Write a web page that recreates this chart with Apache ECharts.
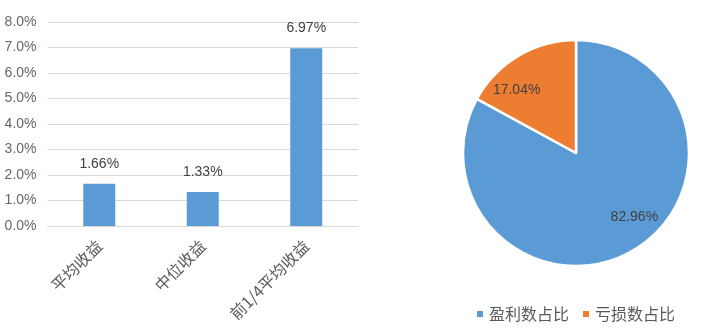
<!DOCTYPE html>
<html><head><meta charset="utf-8">
<script src="https://cdn.jsdelivr.net/npm/echarts@6/dist/echarts.min.js"></script>
<style>html,body{margin:0;padding:0;background:#fff}#c{width:701px;height:329px}</style>
</head><body><div id="c"></div>
<script>
var barCategories = ['平均收益', '中位收益', '前1/4平均收益'];
var barValues = [1.66, 1.33, 6.97];
var yTicks = [0, 1, 2, 3, 4, 5, 6, 7, 8];
var pieNames = ['盈利数占比', '亏损数占比'];
var pieValues = [82.96, 17.04];
var pieColors = ['#5b9bd5', '#ed7d31'];
var labelShift = [[28, 13], [-29, -12]];

var chart = echarts.init(document.getElementById('c'));
chart.setOption({
  animation: false,
  textStyle: {fontFamily: '"Liberation Sans", "Noto Sans CJK SC", sans-serif'},
  grid: {left: 47.5, right: 343, top: 22, bottom: 103},
  xAxis: {
    type: 'category', data: barCategories,
    axisLine: {lineStyle: {color: '#d9d9d9'}},
    axisTick: {show: false},
    axisLabel: {rotate: 45, margin: 17, color: '#595959', fontSize: 16,
      fontFamily: '"Noto Sans CJK SC", sans-serif'}
  },
  yAxis: {
    type: 'value', min: yTicks[0], max: yTicks[yTicks.length - 1], interval: 1,
    axisLine: {show: false}, axisTick: {show: false},
    splitLine: {lineStyle: {color: '#d9d9d9'}},
    axisLabel: {color: '#666666', fontSize: 14, margin: 11,
      formatter: function (v) { return v.toFixed(1) + '%'; }}
  },
  legend: {
    data: pieNames, left: 470, bottom: 2, itemWidth: 8, itemHeight: 8, itemGap: 12,
    icon: 'rect',
    textStyle: {color: '#595959', fontSize: 16, fontFamily: '"Noto Sans CJK SC", sans-serif'}
  },
  series: [
    {
      type: 'bar', data: barValues, barWidth: 32,
      itemStyle: {color: '#5b9bd5'},
      label: {show: true, position: 'top', distance: 13, color: '#404040', fontSize: 14,
        formatter: function (p) { return p.value.toFixed(2) + '%'; }}
    },
    {
      type: 'pie', center: [576, 153], radius: 113, startAngle: 90, clockwise: true,
      data: pieNames.map(function (n, i) {
        return {name: n, value: pieValues[i], itemStyle: {color: pieColors[i]}};
      }),
      itemStyle: {borderColor: '#fff', borderWidth: 2.5},
      label: {show: true, position: 'inside', color: '#404040', fontSize: 14,
        formatter: function (p) { return p.value.toFixed(2) + '%'; }},
      labelLine: {show: false},
      labelLayout: function (p) {
        return {dx: labelShift[p.dataIndex][0], dy: labelShift[p.dataIndex][1]};
      }
    }
  ]
});
</script></body></html>
